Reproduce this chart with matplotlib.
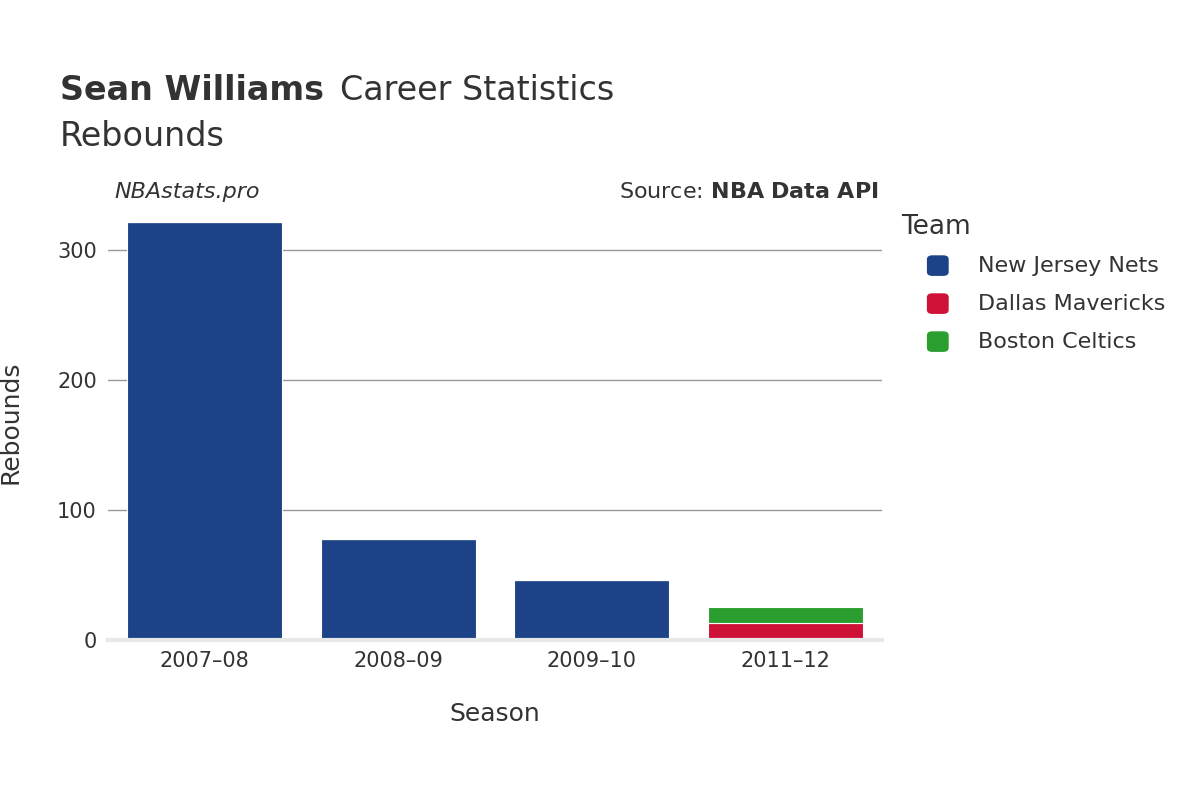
import matplotlib
matplotlib.use("Agg")
import matplotlib.pyplot as plt

seasons = ["2007–08", "2008–09", "2009–10", "2011–12"]
nets = [321, 78, 46, 0]
mavs = [0, 0, 0, 13]
celtics = [0, 0, 0, 12]
teams = ["New Jersey Nets", "Dallas Mavericks", "Boston Celtics"]
colors = ["#1c4387", "#ce1136", "#2a9e2f"]
yticks = [0, 100, 200, 300]

fig = plt.figure(figsize=(12, 8), dpi=100)
ax = fig.add_axes([0.09, 0.2, 0.645, 0.544])
x = range(len(seasons))
ax.bar(x, nets, width=0.8, color=colors[0], edgecolor="white", linewidth=0.8)
ax.bar(x, mavs, width=0.8, bottom=nets, color=colors[1], edgecolor="white", linewidth=0.8)
bot = [a + b for a, b in zip(nets, mavs)]
ax.bar(x, celtics, width=0.8, bottom=bot, color=colors[2], edgecolor="white", linewidth=0.8)
ax.set_xlim(-0.5, 3.5)
ax.set_ylim(0, 334.6)
ax.set_yticks(yticks)
ax.set_xticks(list(x))
ax.set_xticklabels(seasons)
ax.tick_params(length=0, labelsize=15, colors="#333333", pad=8)
ax.grid(axis="y", color="#999999", linewidth=1)
ax.set_axisbelow(True)
for s in ["top", "right", "left"]:
    ax.spines[s].set_visible(False)
ax.spines["bottom"].set_color("#e8e8e8")
ax.spines["bottom"].set_linewidth(3)
ax.set_xlabel("Season", fontsize=18, color="#333333", labelpad=22)
ax.set_ylabel("Rebounds", fontsize=18, color="#333333", labelpad=25)

fig.text(0.05, 0.875, "Sean Williams", fontsize=24, fontweight="bold", color="#333333")
fig.text(0.283, 0.875, "Career Statistics", fontsize=24, color="#333333")
fig.text(0.05, 0.818, "Rebounds", fontsize=24, color="#333333")
fig.text(0.095, 0.752, "NBAstats.pro", fontsize=16, style="italic", color="#333333")
fig.text(0.732, 0.752, "Source: $\\bf{NBA\\ Data\\ API}$", fontsize=16, color="#333333", ha="right")

fig.text(0.751, 0.707, "Team", fontsize=19, color="#333333")
for i, (t, c) in enumerate(zip(teams, colors)):
    yy = 0.668 - i * 0.0475
    fig.patches.append(matplotlib.patches.FancyBboxPatch((0.773, yy - 0.012), 0.017, 0.024,
        boxstyle="round,pad=0,rounding_size=0.004", transform=fig.transFigure, color=c))
    fig.text(0.815, yy, t, fontsize=16, color="#333333", va="center")

fig.savefig("out.png", dpi=100)
